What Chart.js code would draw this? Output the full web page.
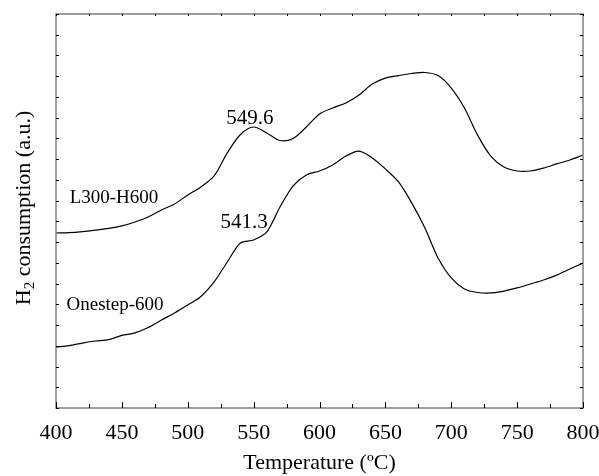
<!DOCTYPE html>
<html lang="en">
<head>
  <meta charset="utf-8">
  <title>TPR profiles</title>
  <script src="https://cdn.jsdelivr.net/npm/chart.js@4.4.1/dist/chart.umd.min.js"></script>
  <style>
    html, body { margin: 0; padding: 0; background: #fff; }
    #wrap { width: 599px; height: 476px; position: relative; }
  </style>
</head>
<body>
  <div id="wrap"><canvas id="tpr"></canvas></div>
  <script>
    // Temperature grid (ºC)
    var temps = [400, 410, 420, 430, 440, 450, 460, 470, 480, 490,
                 500, 510, 520, 530, 540, 550, 560, 570, 580, 590,
                 600, 610, 620, 630, 640, 650, 660, 670, 680, 690,
                 700, 710, 720, 730, 740, 750, 760, 770, 780, 790, 800];

    // H2 consumption, arbitrary units
    var l300h600 = [8.44, 8.46, 8.51, 8.58, 8.66, 8.78, 8.97, 9.21, 9.55, 9.84,
                    10.27, 10.66, 11.19, 12.30, 13.19, 13.55, 13.26, 12.90, 13.00, 13.55,
                    14.18, 14.47, 14.71, 15.09, 15.62, 15.91, 16.03, 16.13, 16.18, 16.03,
                    15.43, 14.47, 13.16, 12.15, 11.62, 11.43, 11.43, 11.57, 11.77, 11.96, 12.20];

    var onestep600 = [2.94, 3.01, 3.13, 3.23, 3.30, 3.50, 3.62, 3.88, 4.24, 4.58,
                      4.97, 5.38, 6.08, 7.04, 7.96, 8.10, 8.49, 9.69, 10.71, 11.24,
                      11.43, 11.72, 12.15, 12.39, 12.06, 11.53, 10.90, 9.89, 8.68, 7.23,
                      6.27, 5.74, 5.57, 5.55, 5.64, 5.79, 5.98, 6.17, 6.41, 6.70, 6.99];

    // text labels placed in data units
    var noteText = ["549.6", "541.3", "L300-H600", "Onestep-600"];
    var noteX    = [547.2, 542.7, 444, 444.8];
    var noteY    = [13.98, 8.97, 10.13, 4.97];
    var noteSize = [21, 21, 19, 19];

    function pts(vals) {
      var out = [];
      for (var i = 0; i < temps.length; i++) out.push({x: temps[i], y: vals[i]});
      return out;
    }

    var serif = "'Liberation Serif', 'Times New Roman', serif";

    // frame, inward tick marks, y title and curve labels
    var decor = {
      id: 'decor',
      afterDraw: function(chart) {
        var ctx = chart.ctx, a = chart.chartArea;
        var xs = chart.scales.x, ys = chart.scales.y;
        ctx.save();

        ctx.strokeStyle = '#808080';
        ctx.lineWidth = 1.5;
        ctx.strokeRect(a.left, a.top, a.right - a.left, a.bottom - a.top);

        ctx.strokeStyle = '#000';
        ctx.lineWidth = 1;
        ctx.beginPath();
        for (var t = 400; t <= 800; t += 25) {
          var px = Math.round(xs.getPixelForValue(t)) + 0.5;
          var len = (t % 50 === 0) ? 6 : 4;
          ctx.moveTo(px, a.bottom);
          ctx.lineTo(px, a.bottom - len);
          ctx.moveTo(px, a.top);
          ctx.lineTo(px, a.top + 2);
        }
        for (var v = 0; v <= 19; v++) {
          var py = Math.round(ys.getPixelForValue(v)) + 0.5;
          ctx.moveTo(a.left, py);
          ctx.lineTo(a.left + 3, py);
          ctx.moveTo(a.right, py);
          ctx.lineTo(a.right - 3, py);
        }
        ctx.stroke();

        ctx.fillStyle = '#000';
        ctx.textAlign = 'center';
        ctx.textBaseline = 'middle';
        for (var i = 0; i < noteText.length; i++) {
          ctx.font = noteSize[i] + 'px ' + serif;
          ctx.fillText(noteText[i], xs.getPixelForValue(noteX[i]), ys.getPixelForValue(noteY[i]));
        }

        // y axis title with subscript
        ctx.translate(23, (a.top + a.bottom) / 2 - 3);
        ctx.rotate(-Math.PI / 2);
        var big = '22px ' + serif, small = '15px ' + serif;
        var rest = ' consumption (a.u.)';
        ctx.font = big;
        var wH = ctx.measureText('H').width, wR = ctx.measureText(rest).width;
        ctx.font = small;
        var w2 = ctx.measureText('2').width;
        var x0 = -(wH + w2 + wR) / 2;
        ctx.textAlign = 'left';
        ctx.textBaseline = 'alphabetic';
        ctx.font = big;
        ctx.fillText('H', x0, 7);
        ctx.font = small;
        ctx.fillText('2', x0 + wH, 11);
        ctx.font = big;
        ctx.fillText(rest, x0 + wH + w2, 7);
        ctx.restore();
      }
    };

    new Chart(document.getElementById('tpr'), {
      type: 'line',
      data: {
        datasets: [
          { label: 'L300-H600', data: pts(l300h600) },
          { label: 'Onestep-600', data: pts(onestep600) }
        ]
      },
      options: {
        responsive: true,
        maintainAspectRatio: false,
        animation: false,
        events: [],
        layout: { padding: { top: 14, right: 16, left: 0, bottom: 0 } },
        elements: {
          line: { borderColor: '#000', borderWidth: 1.2, tension: 0.3, fill: false },
          point: { radius: 0 }
        },
        plugins: { legend: { display: false }, tooltip: { enabled: false } },
        scales: {
          x: {
            type: 'linear', min: 400, max: 800,
            grid: { display: false },
            border: { display: false },
            ticks: { stepSize: 50, color: '#000', padding: 4, font: { family: serif, size: 22 } },
            title: { display: true, text: 'Temperature (ºC)', color: '#000', padding: 0,
                     font: { family: serif, size: 22 } },
            afterFit: function(s) { s.height = 68; s.paddingLeft = 0; s.paddingRight = 0; }
          },
          y: {
            type: 'linear', min: 0, max: 19,
            grid: { display: false },
            border: { display: false },
            ticks: { display: false },
            afterFit: function(s) { s.width = 56; }
          }
        }
      },
      plugins: [decor]
    });
  </script>
</body>
</html>
